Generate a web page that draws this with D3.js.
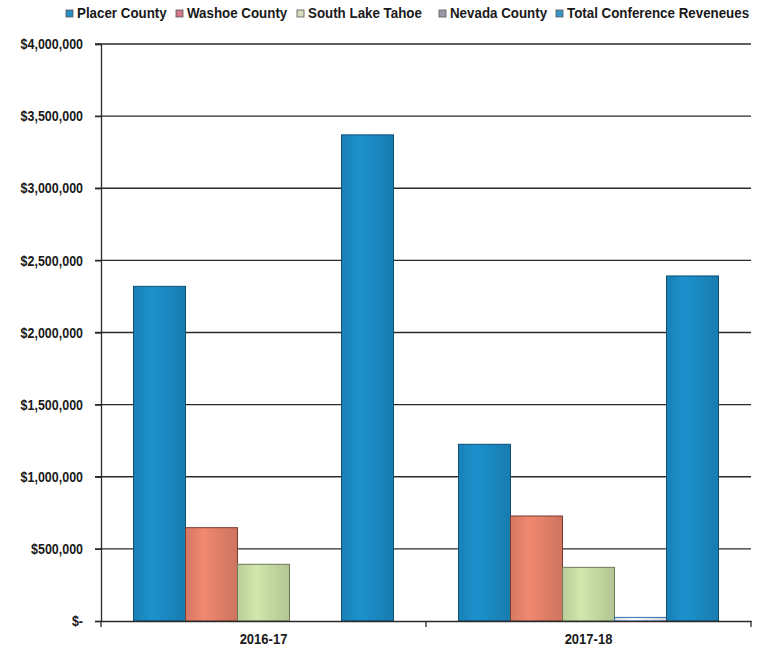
<!DOCTYPE html>
<html>
<head>
<meta charset="utf-8">
<script src="https://cdnjs.cloudflare.com/ajax/libs/d3/7.8.5/d3.min.js"></script>
<style>
  html, body { margin: 0; padding: 0; background: #ffffff; }
  svg text { font-family: "Liberation Sans", Arial, sans-serif; font-weight: bold; fill: #1a1a1a; }
</style>
</head>
<body>
<svg id="chart" width="764" height="653"></svg>
<script>
// Fiscal years on the x axis
const years = ["2016-17", "2017-18"];
// Revenue sources, in drawing order within each year
const sources = ["Placer County", "Washoe County", "South Lake Tahoe", "Nevada County", "Total Conference Reveneues"];
// Revenue per source, one array per year
const fy2016 = [2320000, 647000, 393000, 0, 3370000];
const fy2017 = [1225000, 728000, 372000, 25000, 2392000];
// Y axis ticks
const yTicks = [0, 500000, 1000000, 1500000, 2000000, 2500000, 3000000, 3500000, 4000000];

const fills = ["#1b8cc6", "#e9836c", "#cadfa6", "#eef2f8", "#1b8cc6"];
const strokes = ["#0f4f74", "#7a3d30", "#6b7a58", "#2f6fa8", "#0f4f74"];
const legendMarks = ["#2a8ec6", "#d4778a", "#d8dcc0", "#9a9aa8", "#3a98c8"];

const svg = d3.select("#chart");
const margin = { left: 101, right: 13, top: 44, bottom: 32 };
const W = 764, H = 653;
const plotW = W - margin.left - margin.right;

const x0 = d3.scaleBand().domain(years).range([margin.left, margin.left + plotW]).paddingInner(0).paddingOuter(0);
const x1 = d3.scaleBand().domain(sources).range([0, x0.bandwidth()]).paddingOuter(0.625).paddingInner(0);
const y = d3.scaleLinear().domain([0, 4000000]).range([H - margin.bottom, margin.top]);

// Gradients giving each bar a soft shaded face
const defs = svg.append("defs");
fills.forEach((c, i) => {
  const g = defs.append("linearGradient").attr("id", "g" + i).attr("x1", 0).attr("x2", 1).attr("y1", 0).attr("y2", 0);
  const base = d3.color(c);
  g.append("stop").attr("offset", "0%").attr("stop-color", base.darker(0.25));
  g.append("stop").attr("offset", "35%").attr("stop-color", base.brighter(0.1));
  g.append("stop").attr("offset", "100%").attr("stop-color", base.darker(0.35));
});

// Horizontal gridlines
svg.append("g").selectAll("line").data(yTicks.slice(1)).join("line")
  .attr("x1", margin.left - 6).attr("x2", margin.left + plotW)
  .attr("y1", d => y(d)).attr("y2", d => y(d))
  .attr("stroke", "#2a2a2a").attr("stroke-width", 1.3);

// Y axis
const yAxis = d3.axisLeft(y).tickValues(yTicks).tickSize(6).tickPadding(0)
  .tickFormat(d => d === 0 ? "$-" : "$" + d3.format(",")(d));
const gy = svg.append("g").attr("transform", `translate(${margin.left},0)`).call(yAxis);
gy.select(".domain").attr("stroke", "#2a2a2a").attr("stroke-width", 1.3);
gy.selectAll(".tick line").attr("stroke", "#2a2a2a").attr("stroke-width", 1.3);
gy.selectAll(".tick text")
  .attr("x", -18 / 0.86)
  .attr("transform", "scale(0.86,1)")
  .attr("font-size", 14.5)
  .style("font-family", "'Liberation Sans', Arial, sans-serif").style("font-weight", "bold").attr("fill", "#1a1a1a");

// Bars
const data = [fy2016, fy2017];
const groups = svg.append("g").selectAll("g").data(years).join("g")
  .attr("transform", d => `translate(${x0(d)},0)`);
groups.selectAll("rect").data((yr, yi) => sources.map((s, si) => ({ s, si, v: data[yi][si] }))).join("rect")
  .filter(d => d.v > 0)
  .attr("x", d => x1(d.s))
  .attr("width", x1.bandwidth())
  .attr("y", d => y(d.v))
  .attr("height", d => y(0) - y(d.v))
  .attr("fill", d => `url(#g${d.si})`)
  .attr("stroke", d => strokes[d.si])
  .attr("stroke-width", 1);

// X axis
const xAxis = d3.axisBottom(x0).tickSize(0).tickPadding(12);
const gx = svg.append("g").attr("transform", `translate(0,${y(0)})`).call(xAxis);
gx.select(".domain").attr("stroke", "#2a2a2a").attr("stroke-width", 1.3);
gx.selectAll(".tick text")
  .attr("transform", "scale(0.84,1)")
  .attr("font-size", 15.5)
  .style("font-family", "'Liberation Sans', Arial, sans-serif").style("font-weight", "bold").attr("fill", "#1a1a1a");
// category separator ticks
svg.append("g").selectAll("line").data([margin.left, x0(years[1]), margin.left + plotW]).join("line")
  .attr("x1", d => d).attr("x2", d => d)
  .attr("y1", y(0)).attr("y2", y(0) + 6)
  .attr("stroke", "#2a2a2a").attr("stroke-width", 1.3);

// Legend
const legendX = [66, 176, 297, 439, 556];
const lg = svg.append("g").selectAll("g").data(sources).join("g")
  .attr("transform", (d, i) => `translate(${legendX[i]},0)`);
lg.append("rect").attr("x", 0).attr("y", 10).attr("width", 7).attr("height", 7)
  .attr("fill", (d, i) => legendMarks[i]).attr("stroke", "#555").attr("stroke-width", 0.8);
lg.append("text").attr("x", 11 / 0.89).attr("y", 18.5)
  .attr("transform", "scale(0.89,1)")
  .attr("font-size", 15).text(d => d);
</script>
</body>
</html>
